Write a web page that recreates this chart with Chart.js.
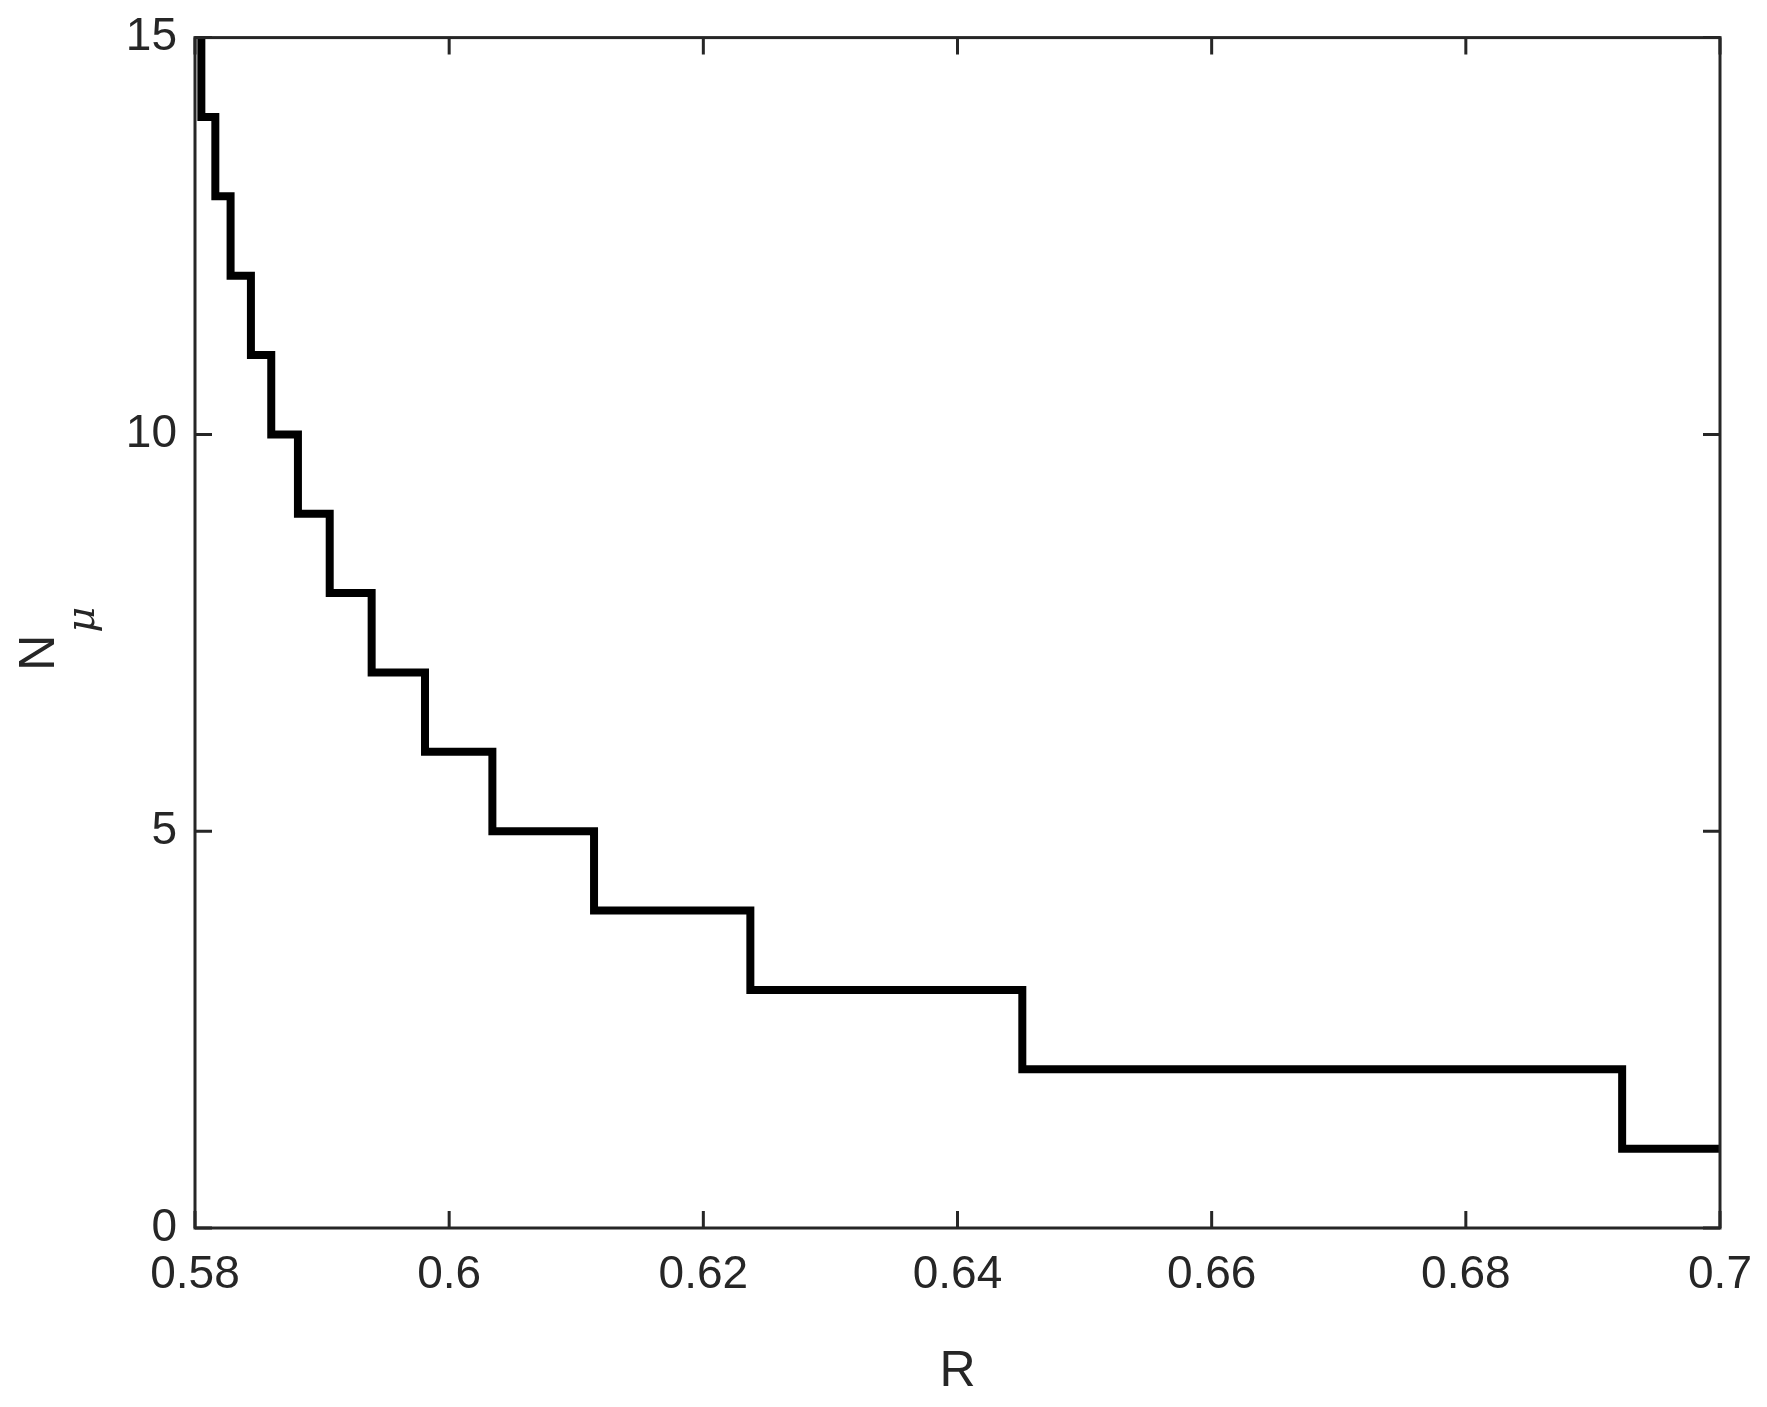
<!DOCTYPE html><html><head><style>html,body{margin:0;background:#fff}</style>
<script src="https://cdn.jsdelivr.net/npm/chart.js@4"></script></head><body>
<canvas id="c" width="1767" height="1407" style="width:1767px;height:1407px"></canvas>
<script>
const R = [0.5803,0.5805,0.5816,0.5828,0.5844,0.5860,0.5881,0.5906,0.5939,0.5981,0.6034,0.6114,0.6237,0.6451,0.6923,0.7];
const N = [15,14,13,12,11,10,9,8,7,6,5,4,3,2,1,1];
const xTicks = [0.58,0.6,0.62,0.64,0.66,0.68,0.7];
const yTicks = [0,5,10,15];
const col = '#262626';
const pts = [{x:R[0],y:N[0]}];
for (let i=1;i<R.length;i++){ pts.push({x:R[i],y:N[i-1]}); pts.push({x:R[i],y:N[i]}); }
const frame = {id:'frame', afterDraw(ch){
  const c=ch.ctx,a=ch.chartArea,x=ch.scales.x,y=ch.scales.y;
  c.save();c.strokeStyle=col;c.lineWidth=3;
  c.strokeRect(a.left,a.top,a.right-a.left,a.bottom-a.top);
  c.beginPath();
  xTicks.forEach(v=>{const p=x.getPixelForValue(v);c.moveTo(p,a.bottom);c.lineTo(p,a.bottom-17);c.moveTo(p,a.top);c.lineTo(p,a.top+17);});
  yTicks.forEach(v=>{const p=y.getPixelForValue(v);c.moveTo(a.left,p);c.lineTo(a.left+17,p);c.moveTo(a.right,p);c.lineTo(a.right-17,p);});
  c.stroke();
  c.fillStyle=col;c.textAlign='center';c.textBaseline='middle';
  c.font='50px "Liberation Sans", Arial';
  c.fillText('R',(a.left+a.right)/2,1372);
  c.translate(40,(a.top+a.bottom)/2);c.rotate(-Math.PI/2);
  c.textAlign='left';c.fillText('N',-38,0);
  c.font='italic 40px "DejaVu Serif", serif';c.fillText('μ',0,44);
  c.restore();
}};
new Chart(document.getElementById('c'),{type:'line',
 data:{datasets:[{data:pts,borderColor:'#000',borderWidth:8,pointRadius:0,fill:false,borderCapStyle:'butt',borderJoinStyle:'miter'}]},
 options:{responsive:false,animation:false,plugins:{legend:{display:false},tooltip:{enabled:false}},
  layout:{padding:{top:36,right:47,left:0,bottom:0}},
  scales:{
   x:{type:'linear',min:0.58,max:0.7,afterBuildTicks(s){s.ticks=xTicks.map(v=>({value:v}));},afterFit(s){s.height=179;},
      grid:{display:false},border:{display:false},
      ticks:{color:col,font:{size:46,family:'"Liberation Sans", Arial'},padding:12,maxRotation:0,callback:v=>String(+v.toFixed(2))}},
   y:{type:'linear',min:0,max:15,afterBuildTicks(s){s.ticks=yTicks.map(v=>({value:v}));},afterFit(s){s.width=195;},
      grid:{display:false},border:{display:false},
      ticks:{color:col,font:{size:46,family:'"Liberation Sans", Arial'},padding:10}}}},
 plugins:[frame]});
</script></body></html>
